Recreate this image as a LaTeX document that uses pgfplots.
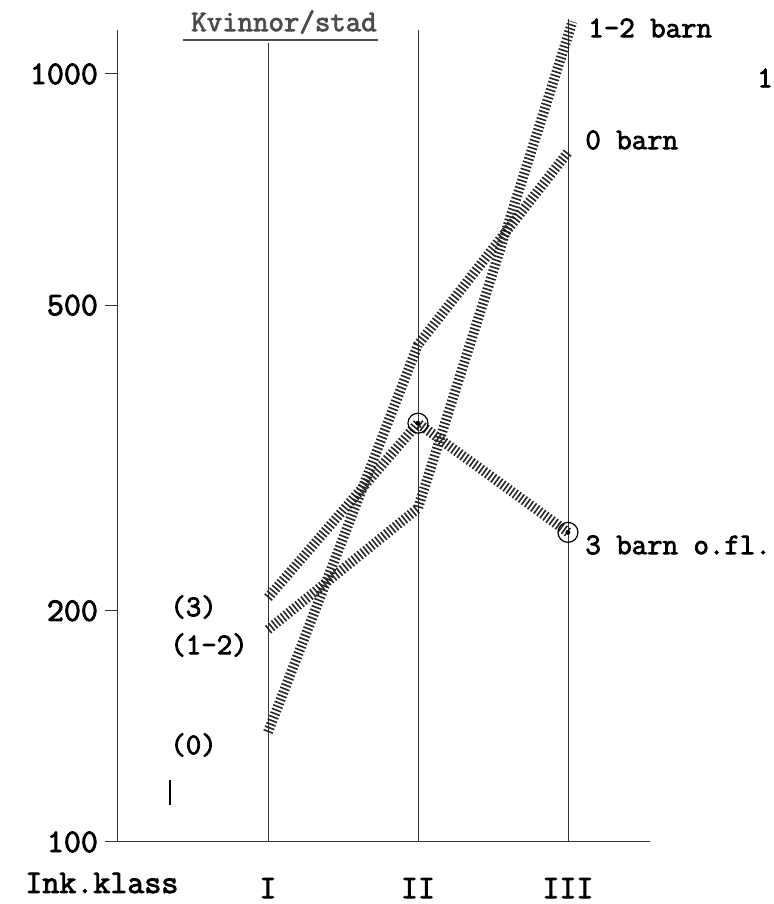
\documentclass[border=0pt]{standalone}
\usepackage{pgfplots}
\pgfplotsset{compat=1.18}
\usepackage{fontspec}
\setmonofont{Latin Modern Mono}[AutoFakeBold=2.6]
\tikzset{hatch/.style={line width=5pt, dash pattern=on 0.8pt off 1.1pt, black!85}}
\newcommand{\lab}{\ttfamily\bfseries\fontsize{15}{17}\selectfont}
\newcommand{\tlab}{\ttfamily\bfseries\fontsize{16.5}{18}\selectfont}
\begin{document}
\begin{tikzpicture}[font=\lab]
\begin{axis}[
  at={(0,0)}, anchor=south west, scale only axis,
  width=266pt, height=406pt,
  xmin=0, xmax=3.547, ymode=log, ymin=100, ymax=1141,
  axis x line*=bottom, axis y line*=left,
  axis line style={line width=0.5pt, black!80},
  xtick={1,2,3}, xticklabels={I,II,III}, xtick style={draw=none},
  ytick={100,200,500,1000}, yticklabels={100,200,500,1000},
  minor ytick={},
  ytick style={line width=0.5pt, black!80},
  tick align=outside, major tick length=6.5pt,
  /pgf/number format/assume math mode=true,
  yticklabel style={font=\tlab},
  xticklabel style={font=\tlab, yshift=-8pt},
  clip=false,
]
\draw[line width=0.4pt, black!80] (axis cs:1,100) -- (axis cs:1,1097);
\draw[line width=0.4pt, black!80] (axis cs:2,100) -- (axis cs:2,1141);
\draw[line width=0.4pt, black!80] (axis cs:3,100) -- (axis cs:3,1180);
\draw[line width=0.6pt] (axis cs:0.347,111.7) -- (axis cs:0.347,120.4);
% 3 barn o.fl.
\addplot[hatch] coordinates {(1,208) (2,351) (3,253)};
% 1-2 barn
\addplot[hatch] coordinates {(1,189) (2,272) (3.03,1170)};
% 0 barn
\addplot[hatch] coordinates {(1,139) (2,444) (3,791)};
\addplot[only marks, mark=o, mark size=5pt, mark options={line width=0.6pt, black}] coordinates {(2,351) (3,253)};
\addplot[only marks, mark=*, mark size=1pt, black] coordinates {(2,351) (3,253)};
\end{axis}
\node[black!70] at (83pt,410pt) {Kvinnor/stad};
\draw[line width=1pt, black!70] (32.5pt,401pt) -- (130pt,401pt);
\node[anchor=west, inner sep=0pt] at (235pt,407pt) {1-2 barn};
\node[anchor=west, inner sep=0pt] at (233.5pt,351pt) {0 barn};
\node[anchor=west, inner sep=0pt] at (233.5pt,148.5pt) {3 barn o.fl.};
\node[inner sep=0pt] at (323.5pt,382pt) {1};
\node[anchor=west, inner sep=0pt] at (26pt,117.5pt) {(3)};
\node[anchor=west, inner sep=0pt] at (26pt,98.5pt) {(1-2)};
\node[anchor=west, inner sep=0pt] at (26pt,48.5pt) {(0)};
\node[anchor=west, inner sep=0pt, font=\tlab] at (-46.5pt,-20.5pt) {Ink.klass};
\pgfresetboundingbox
\path[use as bounding box] (-59pt,-31pt) rectangle (328pt,421pt);
\end{tikzpicture}
\end{document}
